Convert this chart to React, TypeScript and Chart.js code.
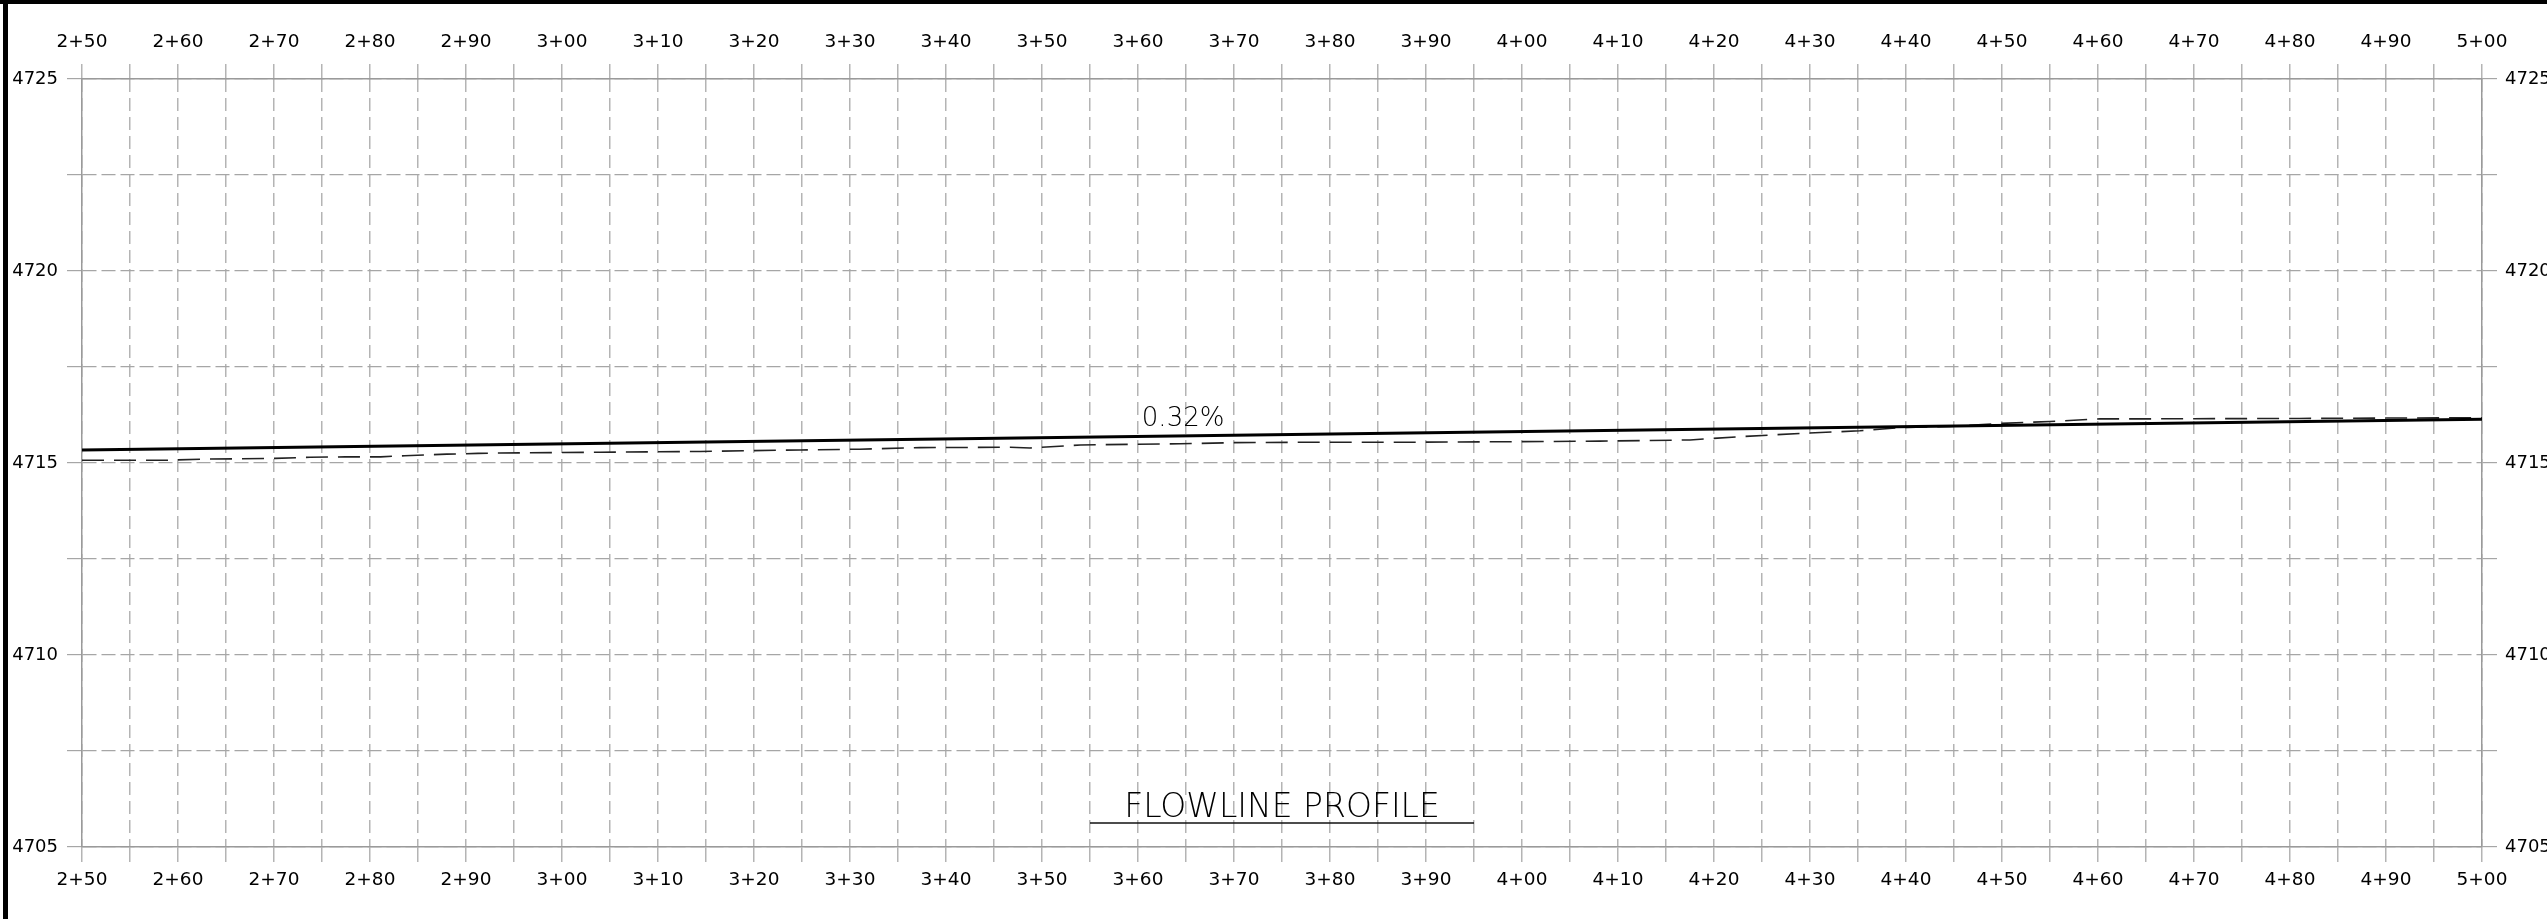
import React, { useEffect, useRef } from 'react';
import { Chart, registerables } from 'chart.js';

Chart.register(...registerables);

// ---- axis ranges ----
const STATION_MIN = 250;
const STATION_MAX = 500;
const STATION_STEP = 5;
const ELEV_MIN = 4705;
const ELEV_MAX = 4725;
const ELEV_STEP = 2.5;

// ---- proposed flowline (0.32% grade) ----
const designStations = [250, 500];
const designElevations = [4715.34, 4716.14];

// ---- existing ground (dashed) ----
const groundStations = [
  250, 258.6, 262.4, 266.3, 270.1, 273.75, 277.4, 281.1, 283.6, 288, 291.25, 293.5,
  304, 314.4, 324.8, 331, 337.3, 346.7, 348.75, 354, 364.4, 369.9, 376.9, 387.3,
  399.5, 408.1, 417.5, 422.7, 429, 435.2, 439.4, 444.6, 449.8, 455, 460.2, 465,
  481, 490, 500,
];
const groundElevations = [
  4715.07, 4715.07, 4715.1, 4715.11, 4715.12, 4715.15, 4715.16, 4715.16, 4715.19, 4715.23, 4715.25, 4715.26,
  4715.28, 4715.3, 4715.34, 4715.36, 4715.4, 4715.41, 4715.39, 4715.47, 4715.5, 4715.53, 4715.54, 4715.54,
  4715.555, 4715.57, 4715.6, 4715.685, 4715.77, 4715.84, 4715.92, 4715.95, 4716.03, 4716.08, 4716.15, 4716.15,
  4716.16, 4716.17, 4716.18,
];

// ---- title underline ----
const underlineStations = [355, 395];
const underlineElevations = [4705.625, 4705.625];

// ---- texts ----
const gradeText = '0.32%';
const titleText = 'FLOWLINE PROFILE';

function stationLabel(v: number): string {
  if (Math.round(v) % 10 !== 0) return '';
  const hundreds = Math.floor(v / 100);
  const rest = Math.round(v - hundreds * 100);
  return `${hundreds}+${String(rest).padStart(2, '0')}`;
}

function elevLabel(v: number): string {
  return Math.abs(v % 5) < 1e-9 ? String(v) : '';
}

const toPoints = (xs: number[], ys: number[]) => xs.map((x, i) => ({ x, y: ys[i] }));

const X_FONT = { family: 'DejaVu Sans', size: 18.5 };
const Y_FONT = { family: 'DejaVu Sans', size: 18 };
const V_GRID = '#b4b4b4';
const H_GRID = '#a6a6a6';
const BORDER = '#9a9a9a';

const textPlugin = {
  id: 'profileText',
  afterDatasetsDraw(chart: any) {
    const { ctx } = chart;
    const x = chart.scales.x;
    const y = chart.scales.y;
    ctx.save();
    ctx.textAlign = 'center';
    ctx.textBaseline = 'alphabetic';
    ctx.fillStyle = '#000';
    ctx.font = '200 26px "DejaVu Sans"';
    ctx.fillText(gradeText, x.getPixelForValue(364.7), y.getPixelForValue(4715.965));
    ctx.font = '200 33px "DejaVu Sans"';
    ctx.fillText(titleText, x.getPixelForValue(375), y.getPixelForValue(4705.78));
    ctx.restore();
  },
};

export default function App() {
  const canvasRef = useRef<HTMLCanvasElement | null>(null);

  useEffect(() => {
    if (!canvasRef.current) return;
    const chart = new Chart(canvasRef.current, {
      type: 'line',
      data: {
        datasets: [
          {
            label: 'Proposed flowline',
            data: toPoints(designStations, designElevations),
            borderColor: '#000',
            borderWidth: 3,
            pointRadius: 0,
            tension: 0,
            xAxisID: 'x',
            yAxisID: 'y',
          },
          {
            label: 'Existing ground',
            data: toPoints(groundStations, groundElevations),
            borderColor: '#222',
            borderWidth: 1.6,
            borderDash: [22, 10],
            pointRadius: 0,
            tension: 0,
            xAxisID: 'x',
            yAxisID: 'y',
          },
          {
            label: 'Title underline',
            data: toPoints(underlineStations, underlineElevations),
            borderColor: '#111',
            borderWidth: 1.5,
            pointRadius: 0,
            xAxisID: 'x',
            yAxisID: 'y',
          },
        ],
      },
      options: {
        animation: false,
        responsive: false,
        devicePixelRatio: 1,
        layout: { padding: 0 },
        plugins: {
          legend: { display: false },
          tooltip: { enabled: false },
          title: { display: false },
        },
        scales: {
          x: {
            type: 'linear',
            position: 'bottom',
            min: STATION_MIN,
            max: STATION_MAX,
            afterFit: (s: any) => { s.height = 72; },
            ticks: {
              stepSize: STATION_STEP,
              autoSkip: false,
              maxRotation: 0,
              padding: 7,
              font: X_FONT,
              color: '#000',
              callback: (v: any) => stationLabel(Number(v)),
            },
            grid: {
              color: V_GRID,
              lineWidth: 1.5,
              drawOnChartArea: true,
              drawTicks: true,
              tickLength: 15,
            },
            border: { display: true, color: BORDER, width: 1.5, dash: [13, 6] },
          },
          x2: {
            type: 'linear',
            position: 'top',
            min: STATION_MIN,
            max: STATION_MAX,
            afterFit: (s: any) => { s.height = 79; },
            ticks: {
              stepSize: STATION_STEP,
              autoSkip: false,
              maxRotation: 0,
              padding: 11,
              font: X_FONT,
              color: '#000',
              callback: (v: any) => stationLabel(Number(v)),
            },
            grid: {
              color: V_GRID,
              lineWidth: 1.5,
              drawOnChartArea: false,
              drawTicks: true,
              tickLength: 15,
            },
            border: { display: true, color: BORDER, width: 1.5 },
          },
          y: {
            type: 'linear',
            position: 'left',
            min: ELEV_MIN,
            max: ELEV_MAX,
            afterFit: (s: any) => { s.width = 82; },
            ticks: {
              stepSize: ELEV_STEP,
              autoSkip: false,
              padding: 9,
              font: Y_FONT,
              color: '#000',
              callback: (v: any) => elevLabel(Number(v)),
            },
            grid: {
              color: H_GRID,
              lineWidth: 1.2,
              drawOnChartArea: true,
              drawTicks: true,
              tickLength: 15,
            },
            border: { display: true, color: BORDER, width: 1.5, dash: [14, 5] },
          },
          y2: {
            type: 'linear',
            position: 'right',
            min: ELEV_MIN,
            max: ELEV_MAX,
            afterFit: (s: any) => { s.width = 65; },
            ticks: {
              stepSize: ELEV_STEP,
              autoSkip: false,
              padding: 8,
              font: Y_FONT,
              color: '#000',
              callback: (v: any) => elevLabel(Number(v)),
            },
            grid: {
              color: H_GRID,
              lineWidth: 1.2,
              drawOnChartArea: false,
              drawTicks: true,
              tickLength: 15,
            },
            border: { display: true, color: BORDER, width: 1.5 },
          },
        },
      } as any,
      plugins: [textPlugin],
    });
    return () => chart.destroy();
  }, []);

  return (
    <div style={{ position: 'fixed', left: 0, top: 0, width: 2547, height: 919, background: '#fff', overflow: 'hidden' }}>
      <canvas ref={canvasRef} width={2547} height={919} style={{ display: 'block', width: 2547, height: 919 }} />
      <div style={{ position: 'absolute', left: 0, top: 0, width: 2547, height: 4, background: '#000' }} />
      <div style={{ position: 'absolute', left: 3, top: 0, width: 5, height: 919, background: '#000' }} />
    </div>
  );
}
